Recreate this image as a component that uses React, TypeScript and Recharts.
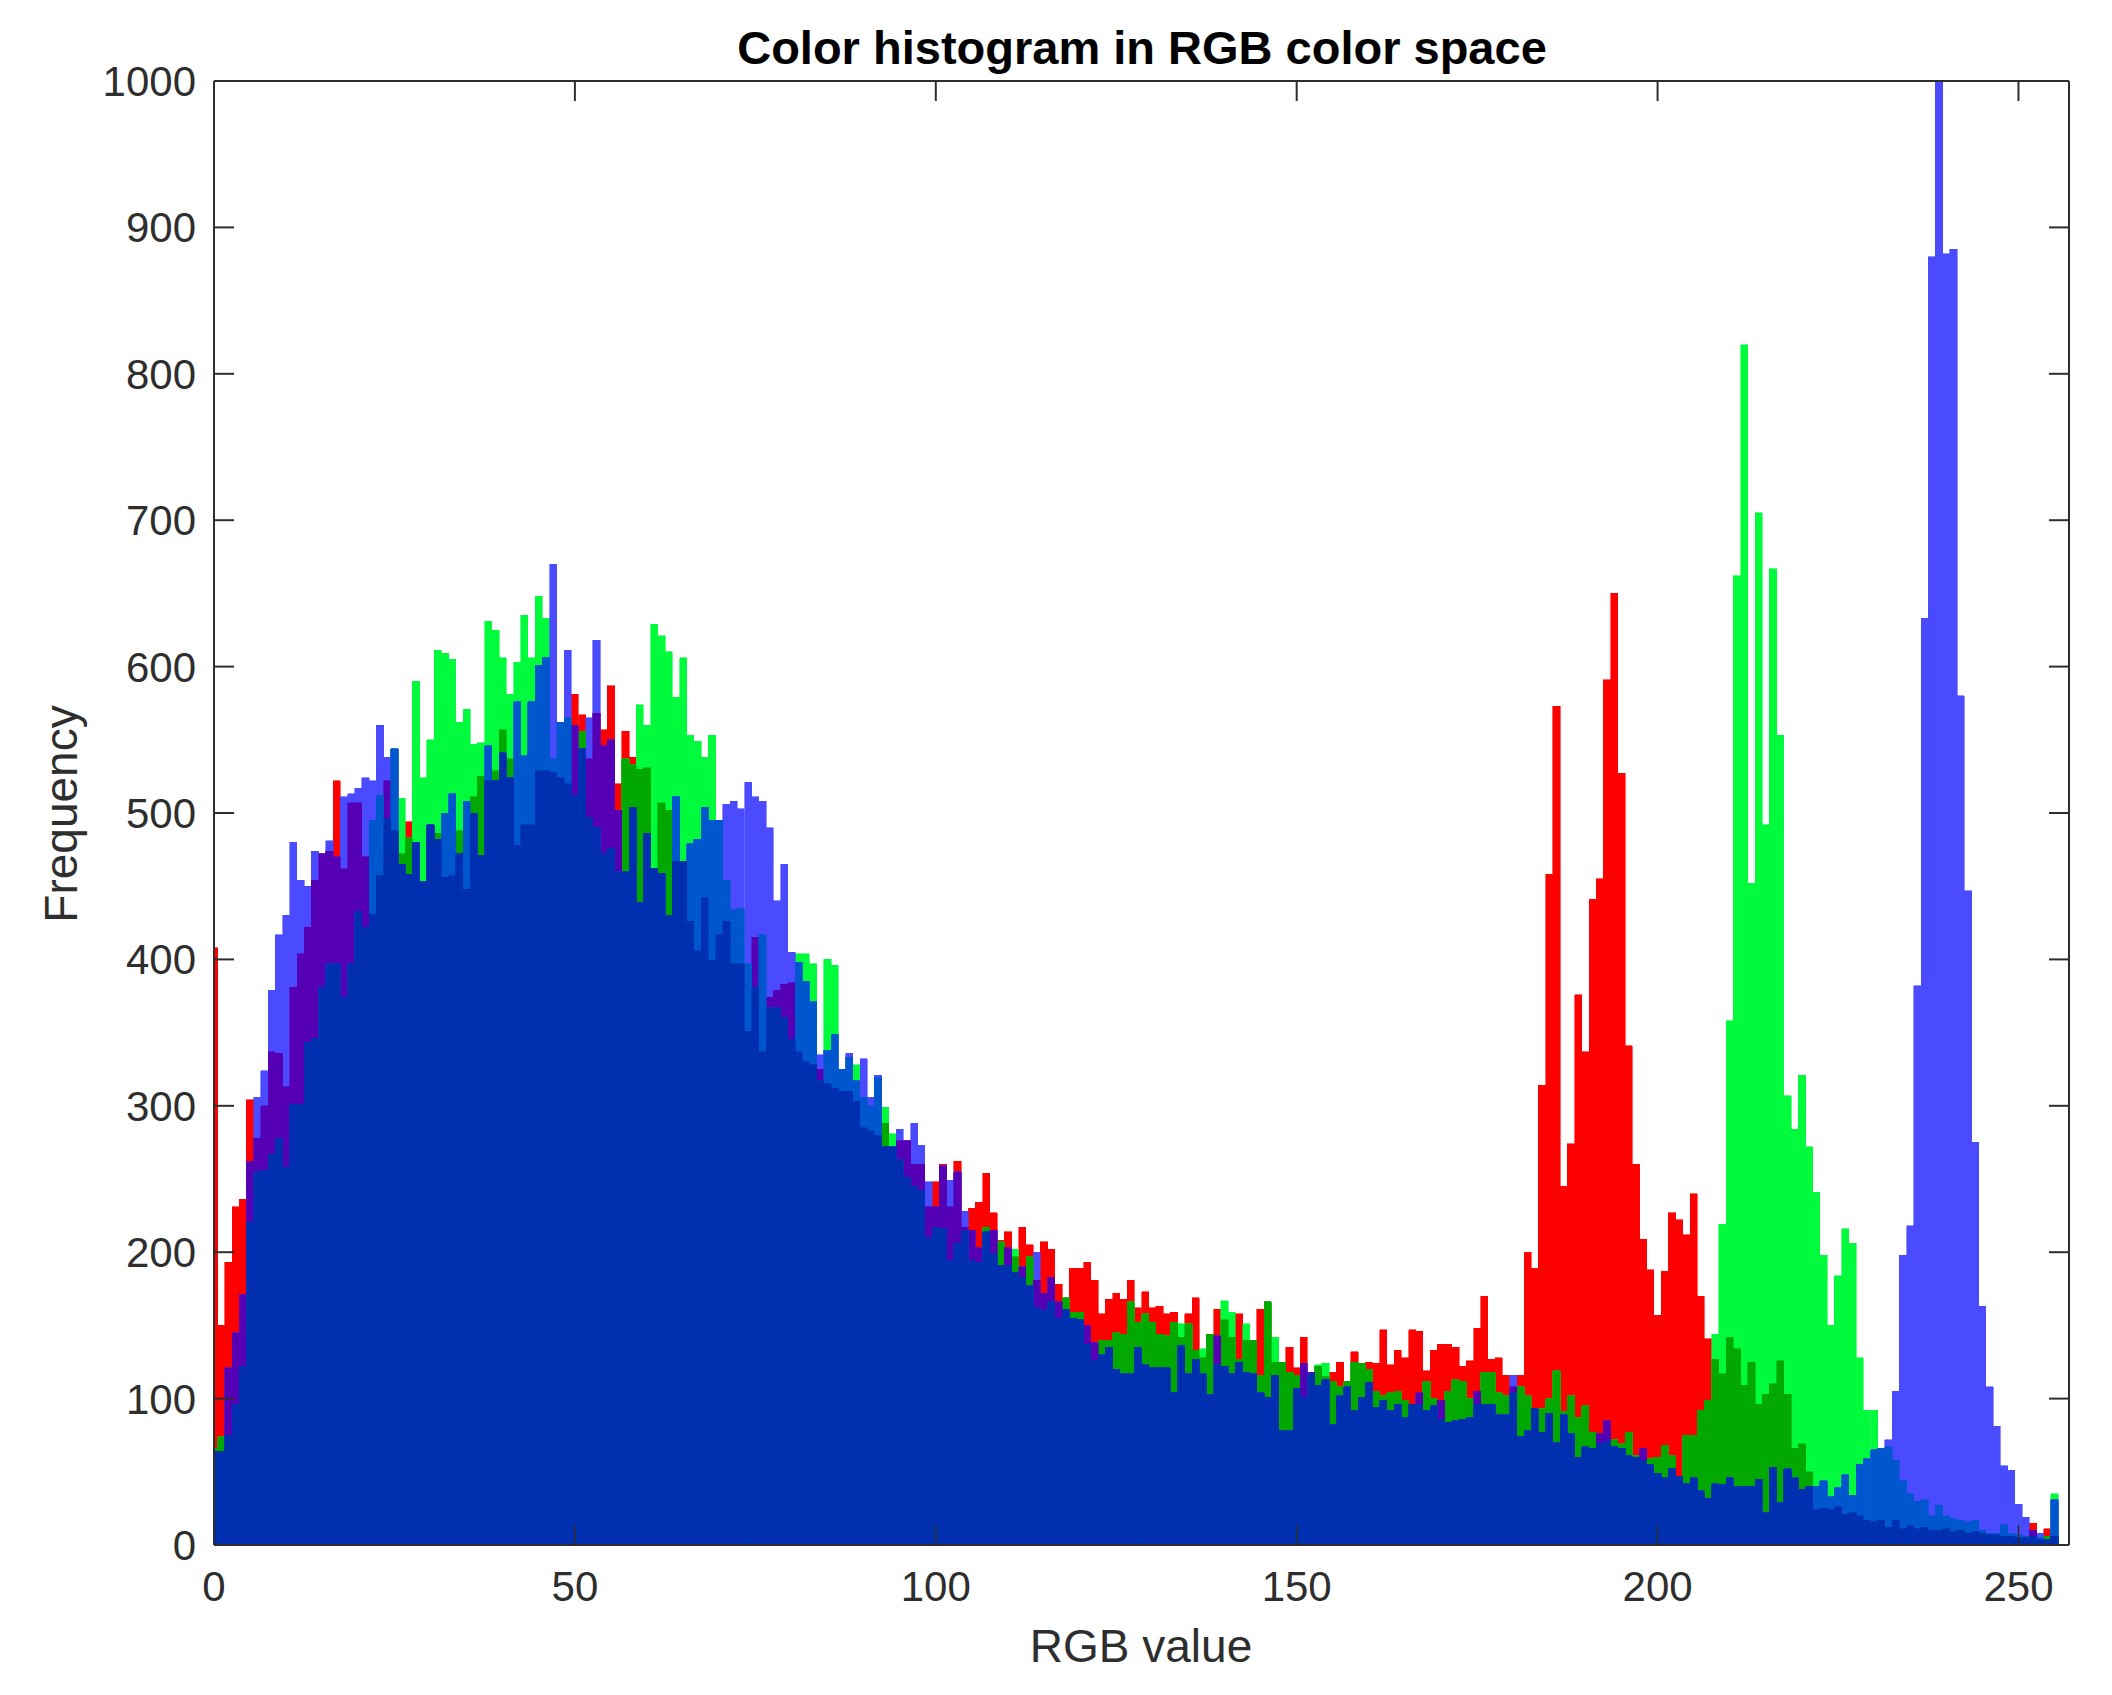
import React from 'react';
import { ComposedChart, Bar, XAxis, YAxis } from 'recharts';

// counts per bin, bins 0..255
const redCounts = [
  408, 150, 193, 231, 236, 304, 278, 300, 337, 336, 313, 381, 404, 422, 454, 472,
  474, 522, 462, 507, 507, 470, 431, 457, 522, 488, 472, 494, 480, 453, 492, 486,
  456, 457, 488, 448, 511, 525, 522, 529, 557, 537, 478, 492, 492, 529, 529, 528,
  524, 520, 581, 567, 537, 568, 557, 587, 520, 556, 538, 530, 531, 462, 507, 502,
  467, 467, 426, 406, 442, 399, 417, 426, 397, 397, 351, 415, 337, 374, 379, 383,
  384, 337, 330, 328, 325, 315, 312, 310, 310, 303, 285, 283, 280, 288, 272, 276,
  276, 260, 260, 231, 248, 260, 231, 262, 217, 230, 234, 254, 227, 208, 214, 197,
  217, 205, 181, 207, 202, 178, 169, 189, 189, 193, 181, 158, 168, 172, 168, 181,
  162, 173, 162, 163, 158, 159, 142, 158, 169, 128, 144, 161, 154, 142, 158, 140,
  140, 161, 166, 125, 125, 135, 121, 142, 118, 122, 115, 118, 125, 112, 132, 124,
  125, 124, 147, 123, 133, 128, 147, 146, 119, 133, 137, 137, 135, 122, 126, 148,
  170, 127, 128, 116, 108, 116, 200, 189, 314, 458, 573, 245, 274, 376, 337, 441,
  455, 591, 650, 527, 341, 260, 209, 188, 157, 187, 227, 222, 212, 240, 170, 141,
  127, 117, 142, 134, 109, 125, 96, 103, 110, 126, 103, 66, 69, 50, 24, 25,
  24, 26, 21, 22, 20, 17, 16, 17, 12, 17, 11, 13, 11, 12, 10, 10,
  11, 9, 10, 8, 9, 8, 7, 7, 6, 6, 5, 5, 15, 4, 11, 6,
];

const greenCounts = [
  66, 74, 75, 96, 122, 220, 255, 256, 267, 278, 258, 301, 301, 343, 346, 381,
  397, 397, 374, 397, 433, 422, 495, 512, 496, 544, 510, 483, 590, 524, 550, 611,
  609, 605, 562, 571, 547, 548, 631, 625, 606, 581, 603, 635, 606, 648, 633, 537,
  562, 565, 512, 556, 497, 490, 472, 476, 460, 537, 533, 574, 560, 629, 621, 610,
  579, 606, 553, 549, 538, 553, 495, 454, 434, 435, 397, 381, 417, 367, 367, 360,
  345, 404, 404, 397, 317, 400, 396, 325, 333, 328, 306, 300, 319, 299, 281, 263,
  251, 245, 242, 210, 217, 216, 194, 206, 215, 194, 193, 217, 199, 207, 191, 202,
  183, 197, 162, 160, 166, 155, 169, 159, 159, 137, 126, 140, 140, 145, 144, 166,
  152, 158, 152, 144, 143, 152, 151, 151, 133, 134, 144, 123, 167, 159, 127, 151,
  140, 116, 166, 142, 125, 118, 116, 101, 117, 123, 124, 112, 108, 112, 125, 124,
  120, 105, 102, 104, 105, 99, 96, 96, 112, 100, 86, 105, 113, 112, 100, 96,
  118, 118, 104, 102, 104, 108, 102, 93, 93, 100, 119, 91, 102, 87, 95, 77,
  69, 71, 72, 69, 77, 61, 58, 59, 60, 68, 61, 47, 75, 75, 92, 99,
  144, 219, 358, 662, 820, 452, 705, 492, 667, 553, 307, 284, 321, 272, 241, 198,
  150, 184, 216, 206, 128, 92, 92, 66, 67, 58, 44, 35, 30, 31, 20, 27,
  20, 18, 17, 16, 17, 10, 8, 8, 14, 8, 7, 6, 6, 5, 6, 35,
];

const blueCounts = [
  64, 64, 121, 145, 171, 262, 306, 324, 379, 417, 430, 480, 454, 450, 474, 472,
  481, 470, 511, 513, 517, 524, 522, 560, 538, 544, 465, 458, 480, 453, 492, 482,
  500, 513, 472, 508, 500, 471, 546, 522, 541, 524, 576, 539, 576, 601, 606, 670,
  562, 611, 560, 544, 565, 618, 546, 550, 502, 460, 504, 439, 486, 462, 459, 430,
  511, 467, 479, 482, 504, 495, 495, 506, 508, 503, 521, 511, 508, 490, 440, 465,
  405, 398, 385, 371, 335, 338, 349, 325, 336, 317, 332, 306, 321, 272, 272, 284,
  276, 288, 273, 248, 231, 259, 249, 255, 228, 215, 203, 214, 215, 191, 203, 186,
  190, 177, 200, 172, 183, 166, 161, 155, 154, 150, 138, 130, 135, 120, 117, 117,
  135, 123, 121, 121, 121, 104, 136, 117, 127, 117, 103, 143, 122, 117, 125, 118,
  117, 104, 101, 116, 78, 78, 107, 124, 118, 109, 113, 82, 102, 108, 92, 101,
  111, 94, 99, 92, 96, 87, 96, 104, 92, 95, 99, 84, 85, 86, 87, 105,
  96, 96, 89, 89, 116, 74, 78, 93, 77, 90, 70, 89, 76, 60, 67, 66,
  76, 85, 67, 66, 61, 60, 66, 55, 49, 46, 52, 47, 42, 46, 37, 32,
  42, 41, 46, 40, 40, 40, 45, 22, 53, 29, 52, 46, 38, 40, 40, 44,
  33, 39, 48, 34, 55, 59, 65, 66, 72, 105, 198, 218, 382, 633, 880, 1000,
  882, 885, 580, 447, 275, 163, 108, 81, 54, 51, 28, 19, 10, 8, 4, 31,
];

const xTicks = [0, 50, 100, 150, 200, 250];
const yTicks = [0, 100, 200, 300, 400, 500, 600, 700, 800, 900, 1000];

// the picture's blended colours are not plain alpha mixes, so every overlap
// gets its own opaque layer, painted from single channels up to all three
const layers = [
  { key: 'r', color: '#ff0000' },
  { key: 'g', color: '#00fb3c' },
  { key: 'b', color: '#4a4aff' },
  { key: 'rg', color: '#00a800' },
  { key: 'rb', color: '#5500b4' },
  { key: 'gb', color: '#0056cc' },
  { key: 'rgb', color: '#0030b0' },
];

const histogram = redCounts.map((r, i) => {
  const g = greenCounts[i];
  const b = blueCounts[i];
  return {
    bin: i,
    r,
    g,
    b,
    rg: Math.min(r, g),
    rb: Math.min(r, b),
    gb: Math.min(g, b),
    rgb: Math.min(r, g, b),
  };
});

const INK = '#2e2e2e';
const TICK_LEN = 20;
const TICK_FONT = 42;
// has to stay just under the band width or recharts puts the layers side by side
const BAR_WIDTH = 7.2;
const FONT = '"Liberation Sans", Arial, sans-serif';

const BottomTick = ({ x, y, payload }: any) => (
  <g>
    <line x1={x} x2={x} y1={y} y2={y - TICK_LEN} stroke={INK} strokeWidth={1.5} />
    <text x={x} y={y + 56} textAnchor="middle" fontSize={TICK_FONT} fontFamily={FONT} fill={INK}>
      {payload.value}
    </text>
  </g>
);

const TopTick = ({ x, y }: any) => (
  <line x1={x} x2={x} y1={y} y2={y + TICK_LEN} stroke={INK} strokeWidth={2} />
);

const LeftTick = ({ x, y, payload }: any) => (
  <g>
    <line x1={x} x2={x + TICK_LEN} y1={y} y2={y} stroke={INK} strokeWidth={2} />
    <text x={x - 18} y={y + 15} textAnchor="end" fontSize={TICK_FONT} fontFamily={FONT} fill={INK}>
      {payload.value}
    </text>
  </g>
);

const RightTick = ({ x, y }: any) => (
  <line x1={x} x2={x - TICK_LEN} y1={y} y2={y} stroke={INK} strokeWidth={2} />
);

const axisLine = { stroke: INK, strokeWidth: 2 };

export default function App() {
  return (
    <div style={{ position: 'absolute', left: 0, top: 0, width: 2112, height: 1695, background: '#fff' }}>
      <ComposedChart
        width={2112}
        height={1695}
        data={histogram}
        margin={{ top: 80, right: 42, bottom: 149, left: 213 }}
        barGap={-BAR_WIDTH}
      >
        <XAxis
          dataKey="bin"
          type="number"
          domain={[0, 257]}
          ticks={xTicks}
          allowDataOverflow
          height={1}
          tickSize={0}
          tickMargin={0}
          tickLine={false}
          axisLine={axisLine}
          tick={BottomTick}
          interval={0}
        />
        <XAxis
          xAxisId="top"
          dataKey="bin"
          orientation="top"
          type="number"
          domain={[0, 257]}
          ticks={xTicks}
          allowDataOverflow
          height={1}
          tickSize={0}
          tickMargin={0}
          tickLine={false}
          axisLine={axisLine}
          tick={TopTick}
          interval={0}
        />
        <YAxis
          type="number"
          domain={[0, 1000]}
          ticks={yTicks}
          allowDataOverflow
          width={1}
          tickSize={0}
          tickMargin={0}
          tickLine={false}
          axisLine={axisLine}
          tick={LeftTick}
          interval={0}
        />
        <YAxis
          yAxisId="right"
          orientation="right"
          type="number"
          domain={[0, 1000]}
          ticks={yTicks}
          allowDataOverflow
          width={1}
          tickSize={0}
          tickMargin={0}
          tickLine={false}
          axisLine={axisLine}
          tick={RightTick}
          interval={0}
        />
        {layers.map((layer) => (
          <Bar
            key={layer.key}
            dataKey={layer.key}
            fill={layer.color}
            stroke={layer.color}
            strokeWidth={0.6}
            shapeRendering="crispEdges"
            barSize={BAR_WIDTH}
            isAnimationActive={false}
          />
        ))}
        <text x={1142} y={64} textAnchor="middle" fontSize={47} fontWeight="bold" fontFamily={FONT} fill="#000">
          Color histogram in RGB color space
        </text>
        <text x={1141} y={1662} textAnchor="middle" fontSize={46} fontFamily={FONT} fill={INK}>
          RGB value
        </text>
        <text
          transform="translate(77 814) rotate(-90)"
          textAnchor="middle"
          fontSize={46}
          fontFamily={FONT}
          fill={INK}
        >
          Frequency
        </text>
      </ComposedChart>
    </div>
  );
}
